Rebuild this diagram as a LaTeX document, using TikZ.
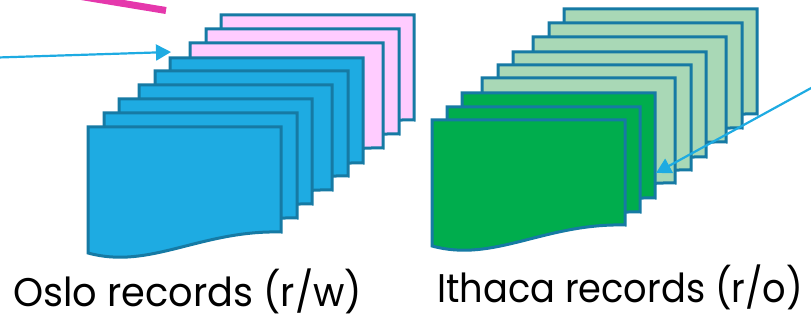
\documentclass[tikz,border=0pt]{standalone}
\usepackage{fontspec}
\setmainfont{Poppins}
\usetikzlibrary{arrows.meta}

\definecolor{docedge}{RGB}{22,122,164}
\definecolor{oslo}{RGB}{30,171,226}
\definecolor{osloold}{RGB}{255,204,255}
\definecolor{ithaca}{RGB}{0,173,77}
\definecolor{ithacaold}{RGB}{169,216,182}
\definecolor{marker}{RGB}{229,56,172}
\definecolor{pointer}{RGB}{30,171,226}

% caption text squeezed horizontally to a given width, height kept
\newcommand{\fitcaption}[2]{\resizebox{#1}{\height}{#2}}

\tikzset{
  record/.style={draw=docedge, line width=3pt, line join=miter},
  pointerline/.style={draw=pointer, line width=2.2pt,
    -{Triangle[length=15pt,width=16pt]}},
  caption/.style={anchor=base west, inner sep=0pt, font=\fontsize{40}{44}\selectfont},
  pics/recordsheet/.style={
    code={
      \path[record, fill=#1]
        (0,0) -- (193,0) -- (193,105)
        .. controls (112,103) and (62,143) .. (0,126) -- cycle;
    }
  }
}

\begin{document}
\begin{tikzpicture}[x=1pt, y=-1pt]
  \useasboundingbox (0,0) rectangle (811,320);

  % Oslo stack, back to front
  \foreach \px/\py/\c in {221/15/osloold, 206/29/osloold, 190/43/osloold,
      170/58/oslo, 155/71/oslo, 139/85/oslo, 119/99/oslo, 104/113/oslo, 88/127/oslo}
    \pic at (\px,\py) {recordsheet=\c};

  % Ithaca stack, back to front
  \foreach \px/\py/\c in {564/9/ithacaold, 549/23/ithacaold, 533/37/ithacaold,
      513/52/ithacaold, 498/65/ithacaold, 482/78/ithacaold,
      462/93/ithaca, 447/107/ithaca, 432/120/ithaca}
    \pic at (\px,\py) {recordsheet=\c};

  % marker stroke entering from the top
  \coordinate (markA) at (78,-4);
  \coordinate (markB) at (166,10.5);
  \draw[marker, line width=7pt] (markA) -- (markB);

  % pointers
  \coordinate (osloFrom) at (-2,57.5);
  \coordinate (osloTo) at (171,52);
  \draw[pointerline] (osloFrom) -- (osloTo);

  \coordinate (ithacaFrom) at (813,87);
  \coordinate (ithacaTo) at (656,173);
  \draw[pointerline] (ithacaFrom) -- (ithacaTo);

  % captions
  \node[caption] (osloLabel) at (13,306) {\fitcaption{349pt}{Oslo records (r/w)}};
  \node[caption] (ithacaLabel) at (437,302) {\fitcaption{366pt}{Ithaca records (r/o)}};
\end{tikzpicture}
\end{document}
